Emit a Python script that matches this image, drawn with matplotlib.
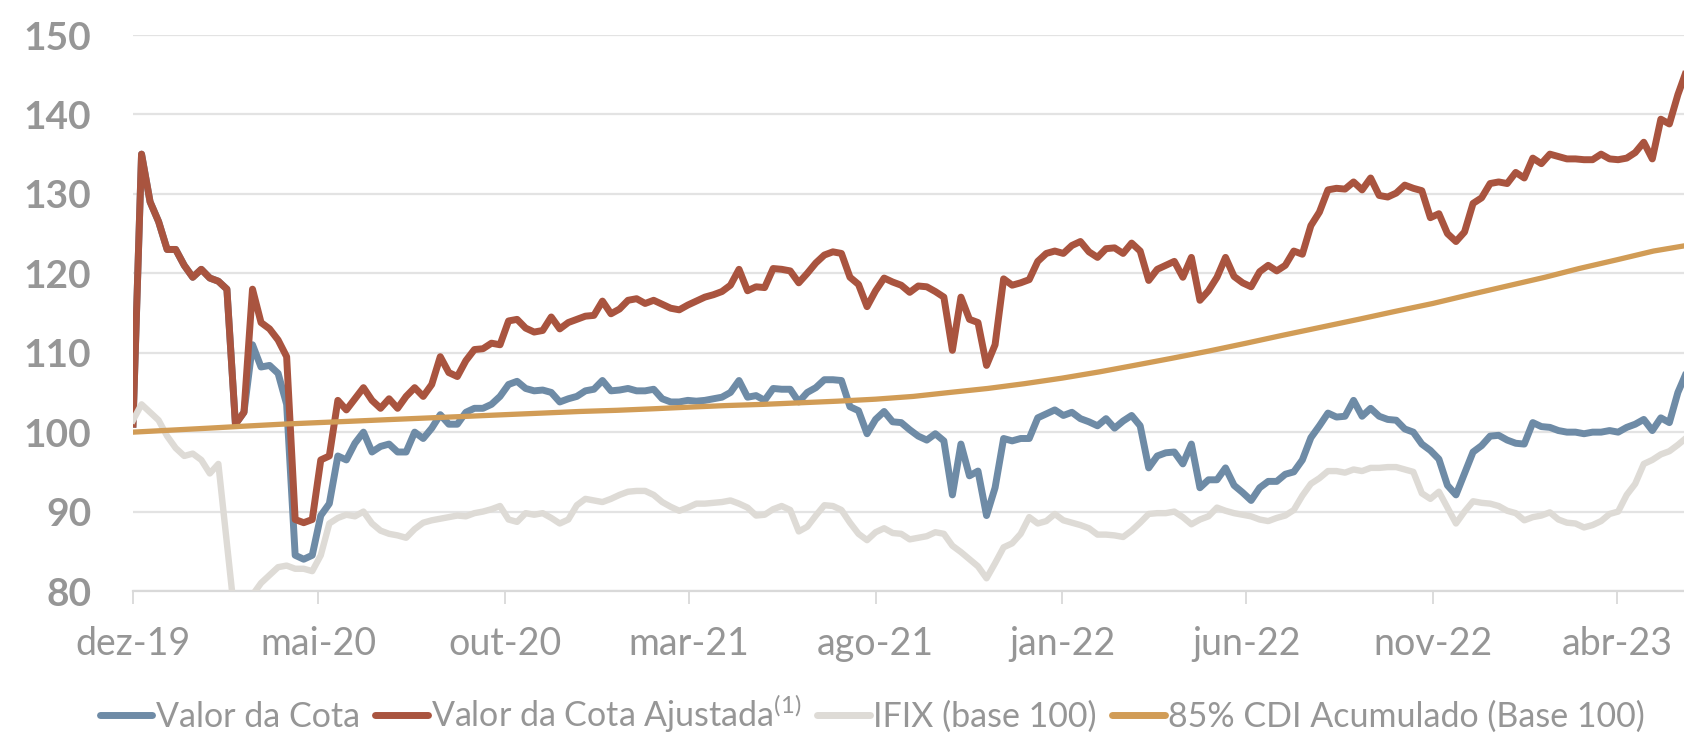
import numpy as np
import pandas as pd
import matplotlib
matplotlib.use("Agg")
import matplotlib.pyplot as plt
from matplotlib.lines import Line2D

plt.rcParams['font.family'] = ['Lato', 'DejaVu Sans']
plt.rcParams['mathtext.fontset'] = 'custom'
plt.rcParams['mathtext.rm'] = 'Lato'

# ---------------- data ----------------
start_date = "2019-12-01"
# weekly observation offsets (days from start)
day_offsets = list(range(0, 1268, 7)) + [1274]

valor_cota = [
    101, 135, 129, 126.5, 123, 123, 121, 119.5, 120.5, 119.4,
    119, 118, 101, 102.5, 111, 108.2, 108.4, 107.4, 103.5, 84.5,
    84, 84.5, 89.5, 91, 97, 96.5, 98.6, 100, 97.5, 98.2,
    98.5, 97.5, 97.5, 100, 99.2, 100.5, 102.2, 101, 101, 102.5,
    103, 103, 103.5, 104.5, 106, 106.4, 105.5, 105.2, 105.3, 105,
    103.8, 104.2, 104.5, 105.2, 105.4, 106.5, 105.2, 105.3, 105.5, 105.2,
    105.2, 105.4, 104.2, 103.8, 103.8, 104, 103.9, 104, 104.2, 104.4,
    105, 106.5, 104.4, 104.6, 104, 105.5, 105.4, 105.4, 103.8, 105,
    105.6, 106.6, 106.6, 106.5, 103.2, 102.7, 99.8, 101.6, 102.6, 101.3,
    101.2, 100.3, 99.5, 99, 99.8, 98.9, 92.1, 98.5, 94.5, 95.1,
    89.5, 93, 99.2, 98.9, 99.2, 99.2, 101.8, 102.3, 102.8, 102.1,
    102.5, 101.7, 101.3, 100.8, 101.7, 100.5, 101.4, 102.1, 100.8, 95.5,
    97, 97.4, 97.5, 96, 98.5, 93, 94, 94, 95.5, 93.3,
    92.4, 91.4, 93, 93.8, 93.8, 94.7, 95, 96.5, 99.3, 100.8,
    102.4, 101.9, 102, 104, 102, 103, 102, 101.6, 101.5, 100.4,
    100, 98.5, 97.7, 96.6, 93.3, 92.1, 94.8, 97.5, 98.3, 99.5,
    99.6, 99, 98.6, 98.5, 101.2, 100.7, 100.6, 100.2, 100, 100,
    99.8, 100, 100, 100.2, 100, 100.6, 101, 101.6, 100.2, 101.8,
    101.2, 105, 107.5,
]

valor_cota_ajustada = [
    101, 135, 129, 126.5, 123, 123, 121, 119.5, 120.5, 119.4,
    119, 118, 101, 102.5, 118, 113.8, 113, 111.6, 109.5, 89,
    88.6, 89, 96.5, 97, 104, 102.8, 104.2, 105.6, 104, 103,
    104.2, 103, 104.5, 105.6, 104.5, 106, 109.5, 107.5, 107, 109,
    110.4, 110.5, 111.2, 111, 114, 114.2, 113.1, 112.6, 112.8, 114.5,
    113, 113.8, 114.2, 114.6, 114.7, 116.5, 114.9, 115.5, 116.6, 116.8,
    116.2, 116.6, 116.1, 115.6, 115.4, 116, 116.5, 117, 117.3, 117.7,
    118.5, 120.5, 117.8, 118.3, 118.2, 120.6, 120.5, 120.3, 118.8, 120,
    121.3, 122.3, 122.7, 122.5, 119.5, 118.6, 115.8, 117.8, 119.4, 118.9,
    118.5, 117.6, 118.4, 118.3, 117.7, 117, 110.3, 117, 114.2, 113.8,
    108.4, 111, 119.3, 118.5, 118.8, 119.2, 121.5, 122.5, 122.8, 122.5,
    123.5, 124, 122.7, 122, 123.1, 123.2, 122.5, 123.8, 122.8, 119.1,
    120.5, 121, 121.5, 119.5, 122, 116.6, 117.8, 119.5, 122, 119.6,
    118.8, 118.3, 120.2, 121, 120.3, 121, 122.8, 122.4, 126, 127.7,
    130.5, 130.7, 130.6, 131.5, 130.5, 132, 129.8, 129.6, 130.1, 131.1,
    130.7, 130.4, 127, 127.5, 125, 124, 125.2, 128.8, 129.5, 131.3,
    131.5, 131.3, 132.7, 132, 134.5, 133.8, 135, 134.7, 134.4, 134.4,
    134.3, 134.3, 135, 134.4, 134.3, 134.5, 135.2, 136.5, 134.4, 139.4,
    138.8, 142.5, 145.5,
]

ifix = [
    101.5, 103.5, 102.5, 101.5, 99.5, 98, 97, 97.3, 96.5, 94.8,
    96, 86, 76, 72, 79.5, 81, 82, 83, 83.2, 82.8,
    82.8, 82.5, 84.5, 88.5, 89.2, 89.6, 89.4, 90, 88.5, 87.6,
    87.2, 87, 86.7, 87.8, 88.6, 88.9, 89.1, 89.3, 89.5, 89.4,
    89.8, 90, 90.3, 90.7, 89, 88.7, 89.8, 89.6, 89.8, 89.2,
    88.5, 89, 90.8, 91.6, 91.4, 91.2, 91.6, 92.1, 92.5, 92.6,
    92.6, 92.1, 91.2, 90.6, 90.1, 90.5, 91, 91, 91.1, 91.2,
    91.4, 91, 90.5, 89.5, 89.6, 90.3, 90.7, 90.2, 87.5, 88.1,
    89.5, 90.8, 90.7, 90.2, 88.6, 87.2, 86.4, 87.4, 87.9, 87.3,
    87.2, 86.5, 86.7, 86.9, 87.4, 87.2, 85.7, 84.9, 84, 83.1,
    81.6, 83.5, 85.5, 86, 87.2, 89.3, 88.5, 88.8, 89.7, 88.9,
    88.6, 88.3, 87.9, 87.1, 87.1, 87, 86.8, 87.6, 88.6, 89.7,
    89.8, 89.8, 90, 89.3, 88.4, 89, 89.4, 90.5, 90.1, 89.8,
    89.6, 89.4, 89, 88.8, 89.2, 89.5, 90.2, 92, 93.5, 94.2,
    95.1, 95.1, 94.9, 95.3, 95.1, 95.5, 95.5, 95.6, 95.6, 95.3,
    95, 92.3, 91.6, 92.5, 90.5, 88.5, 90, 91.3, 91.1, 91,
    90.7, 90.1, 89.8, 88.9, 89.3, 89.5, 89.9, 89, 88.6, 88.5,
    88, 88.3, 88.8, 89.7, 90, 92.1, 93.5, 96, 96.5, 97.2,
    97.6, 98.4, 99.3,
]

# 85% CDI accumulated, monthly (1st of month) + last observation
cdi_dates = list(pd.date_range("2019-12-01", periods=42, freq="MS")) + [pd.Timestamp("2023-05-28")]
cdi = [
    100.0, 100.25, 100.5, 100.75, 101.0, 101.2, 101.4, 101.6, 101.8, 102.0,
    102.2, 102.4, 102.6, 102.75, 102.95, 103.15, 103.35, 103.5, 103.7, 103.9,
    104.15, 104.5, 105.0, 105.5, 106.1, 106.8, 107.6, 108.4, 109.3, 110.2,
    111.2, 112.2, 113.2, 114.2, 115.2, 116.2, 117.3, 118.4, 119.5, 120.6,
    121.7, 122.8, 123.5,
]

tick_dates = ["2019-12-01", "2020-05-01", "2020-10-01", "2021-03-01", "2021-08-01",
              "2022-01-01", "2022-06-01", "2022-11-01", "2023-04-01"]
tick_labels = ["dez-19", "mai-20", "out-20", "mar-21", "ago-21",
               "jan-22", "jun-22", "nov-22", "abr-23"]
y_ticks = [80, 90, 100, 110, 120, 130, 140, 150]

series_names = ["Valor da Cota", "Valor da Cota Ajustada$^{\\mathregular{(1)}}$",
                "IFIX (base 100)", "85% CDI Acumulado (Base 100)"]

# ---------------- style ----------------
C_BLUE = "#6E8BA6"
C_RED = "#A9543F"
C_IFIX = "#DEDBD6"
C_CDI = "#D19C56"
C_TEXT = "#969696"
C_GRID = "#E3E3E3"

dates = pd.Timestamp(start_date) + pd.to_timedelta(day_offsets, unit="D")

fig = plt.figure(figsize=(16.84, 7.33), dpi=100)
W, H = 1684, 733
ax = fig.add_axes([133 / W, 1 - 591 / H, 1 - 133 / W, (591 - 35) / H])

ax.plot(dates, valor_cota, color=C_BLUE, lw=5.0, solid_joinstyle="round", zorder=3)
ax.plot(dates, valor_cota_ajustada, color=C_RED, lw=5.0, solid_joinstyle="round", zorder=4)
ax.plot(dates, ifix, color=C_IFIX, lw=4.6, solid_joinstyle="round", zorder=5)
ax.plot(cdi_dates, cdi, color=C_CDI, lw=3.8, solid_joinstyle="round", zorder=6)

ax.set_ylim(80, 150)
ax.set_xlim(pd.Timestamp(start_date), pd.Timestamp(start_date) + pd.Timedelta(days=1272))
ax.set_yticks(y_ticks)
ax.set_yticklabels([str(v) for v in y_ticks])
ax.set_xticks(pd.to_datetime(tick_dates))
ax.set_xticklabels(tick_labels)

ax.grid(axis="y", color=C_GRID, lw=1.6, zorder=0)
ax.set_axisbelow(True)
for s in ["top", "right", "left"]:
    ax.spines[s].set_visible(False)
ax.spines["bottom"].set_color("#D9D9D9")
ax.spines["bottom"].set_linewidth(1.6)

ax.tick_params(axis="y", length=0, pad=30, labelsize=28, labelcolor=C_TEXT)
for lab in ax.get_yticklabels():
    lab.set_fontweight("bold")
ax.tick_params(axis="x", length=9, width=1.3, color="#D9D9D9", direction="out",
               pad=16, labelsize=27, labelcolor=C_TEXT)

handles = [Line2D([], [], color=c, lw=5, solid_capstyle="round")
           for c in (C_BLUE, C_RED, C_IFIX, C_CDI)]
fig.legend(handles, series_names, loc="center", bbox_to_anchor=(0.518, 0.027),
           ncol=4, frameon=False, fontsize=24.5, handlelength=1.55,
           handletextpad=0.1, columnspacing=0.45, labelcolor=C_TEXT,
           borderpad=0, borderaxespad=0)

fig.savefig("out.png", dpi=100)
